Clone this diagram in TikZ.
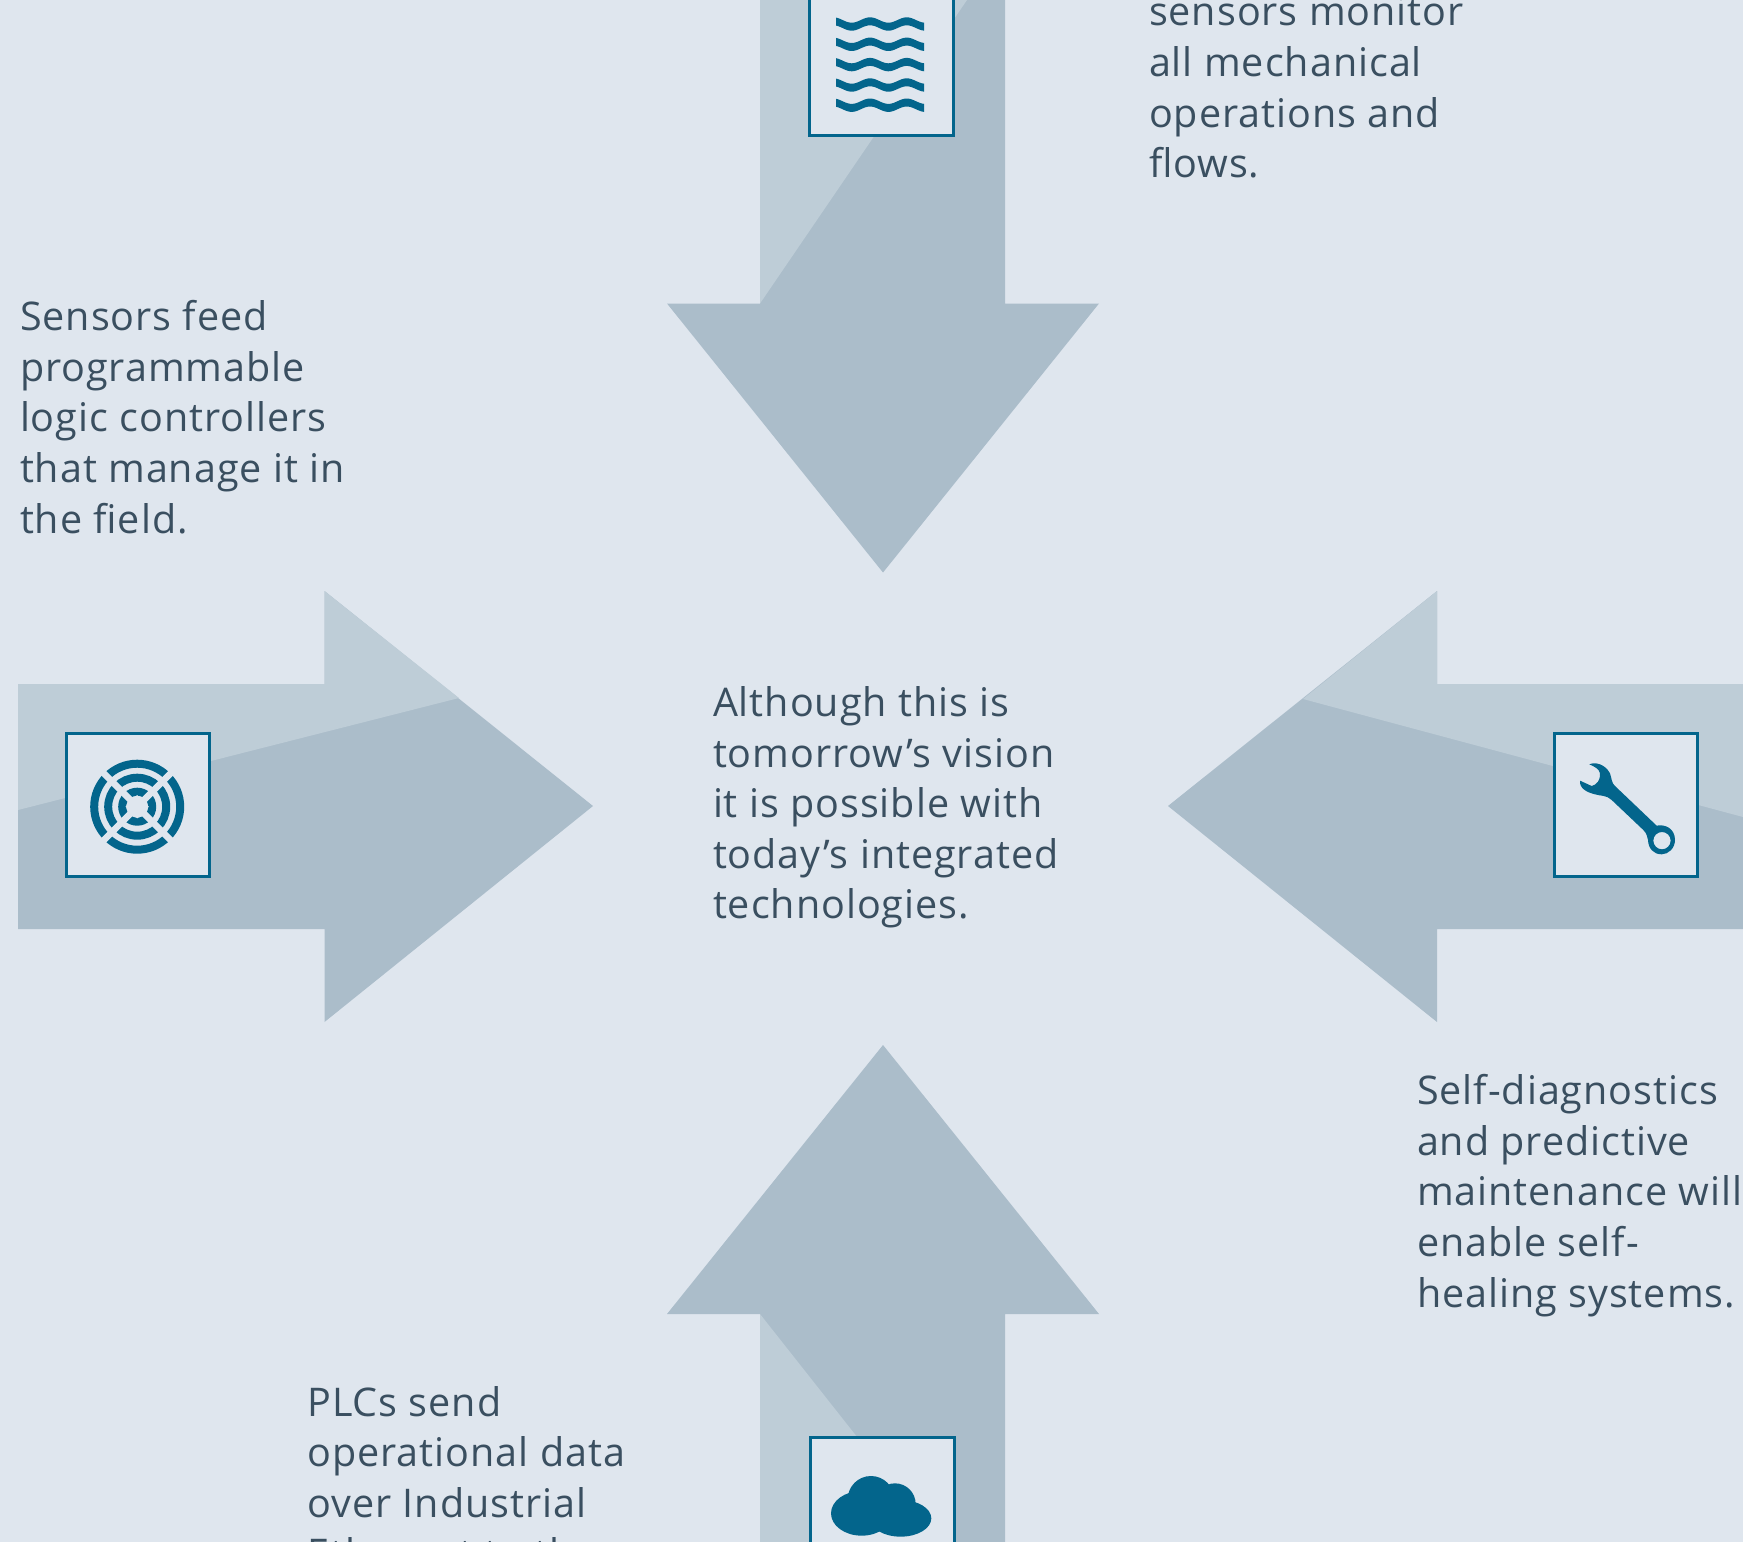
\documentclass[tikz,border=0pt]{standalone}
\usepackage{fontspec}
\setmainfont[LetterSpace=2.5]{Open Sans}
\definecolor{bgc}{HTML}{DFE6EE}
\definecolor{lightc}{HTML}{BECDD7}
\definecolor{darkc}{HTML}{ABBDCA}
\definecolor{tealc}{HTML}{03658C}
\definecolor{textc}{HTML}{3A4F60}
\tikzset{
  iconbox/.style={draw=tealc,fill=bgc,line width=2.8pt,minimum size=143.4pt,inner sep=0pt,outer sep=0pt},
  para/.style={anchor=north west,align=left,inner sep=0pt,outer sep=0pt,text=textc,font=\fontsize{39.5}{50.6}\selectfont},
  ico/.style={fill=tealc,draw=none}
}
\begin{document}
\begin{tikzpicture}[x=1pt,y=-1pt]
\useasboundingbox (0,0) rectangle (1743,1542);
\clip (0,0) rectangle (1743,1542);
\fill[bgc] (0,0) rectangle (1743,1542);
% arrows
\fill[darkc] (760,0) -- (1005,0) -- (1005,303.5) -- (1099,303.5) -- (883,572.5) -- (667,303.5) -- (760,303.5) -- cycle;
\fill[lightc] (760,0) -- (967,0) -- (760,303.5) -- cycle;
\fill[darkc] (18,684) -- (324.5,684) -- (324.5,591) -- (593,806) -- (324.5,1022) -- (324.5,929) -- (18,929) -- cycle;
\fill[lightc] (18,684) -- (324.5,684) -- (324.5,591) -- (459,698) -- (18,810) -- cycle;
\fill[darkc] (1743,684) -- (1437,684) -- (1437,591) -- (1168,806) -- (1437,1022) -- (1437,929) -- (1743,929) -- cycle;
\fill[lightc] (1743,684) -- (1437,684) -- (1437,591) -- (1303,699) -- (1743,817) -- cycle;
\fill[darkc] (760,1542) -- (1005,1542) -- (1005,1314) -- (1099,1314) -- (883,1045) -- (667,1314) -- (760,1314) -- cycle;
\fill[lightc] (760,1314) -- (940,1542) -- (760,1542) -- cycle;
% boxes
\node[iconbox] (boxtop) at (881.5,63.5) {};
\node[iconbox] (boxleft) at (138,805) {};
\node[iconbox] (boxright) at (1626,805) {};
\node[iconbox] (boxbottom) at (882.5,1509) {};
% waves
\foreach \yc in {24,44.3,64.6,85,105.2}{
  \fill[ico] plot[domain=836:924,samples=45,variable=\t] ({\t},{\yc-4+2.7*cos(9.809*(\t-851.7))})
    -- plot[domain=924:836,samples=45,variable=\t] ({\t},{\yc+4+2.7*cos(9.809*(\t-851.7))}) -- cycle;
}
% fan
\foreach \r in {43,29,15}{ \draw[tealc,line width=8pt] (137.2,806.7) circle[radius=\r]; }
\draw[bgc,line width=6.5pt] (100.5,770) -- (173.9,843.4) (173.9,770) -- (100.5,843.4);
\path[fill=bgc] (137.2,795) -- (148.9,806.7) -- (137.2,818.4) -- (125.5,806.7) -- cycle;
% wrench
\begin{scope}[shift={(1500,660)},x=0.3333pt,y=-0.3333pt]
\fill[ico,even odd rule] (268,313) .. controls (285,305) and (315,312) .. (330,340)
  .. controls (335,355) and (335,370) .. (345,378)
  -- (470,497) .. controls (495,492) and (525,505) .. (525,540)
  .. controls (525,565) and (505,583) .. (485,583)
  .. controls (460,583) and (445,565) .. (444,540)
  .. controls (440,520) and (435,515) .. (430,510)
  -- (335,420) .. controls (320,405) and (300,408) .. (285,403)
  .. controls (260,397) and (238,385) .. (240,362)
  -- (275,378) .. controls (290,375) and (302,360) .. (300,340)
  .. controls (298,328) and (285,320) .. (268,313) -- cycle
  (486,542) circle[radius=26];
\end{scope}
% cloud
\begin{scope}[shift={(740,1400)},x=0.3333pt,y=-0.3333pt]
\fill[ico] (365,340) ellipse[x radius=92,y radius=67];
\fill[ico] (482,355) ellipse[x radius=92,y radius=55];
\fill[ico] (393,298) circle[radius=70];
\fill[ico] (465,312) circle[radius=62];
\end{scope}
% texts
\node[para] (t1) at (1149,-3) {sensors monitor\\all mechanical\\operations and\\flows.};
\node[para] (t2) at (20,300.5) {Sensors feed\\programmable\\logic controllers\\that manage it in\\the field.};
\node[para] (t3) at (713,686.5) {Although this is\\tomorrow’s vision\\it is possible with\\today’s integrated\\technologies.};
\node[para] (t4) at (1417,1074.5) {Self-diagnostics\\and predictive\\maintenance will\\enable self-\\healing systems.};
\node[para] (t5) at (307.5,1386) {PLCs send\\operational data\\over Industrial\\Ethernet to the};
\end{tikzpicture}
\end{document}
